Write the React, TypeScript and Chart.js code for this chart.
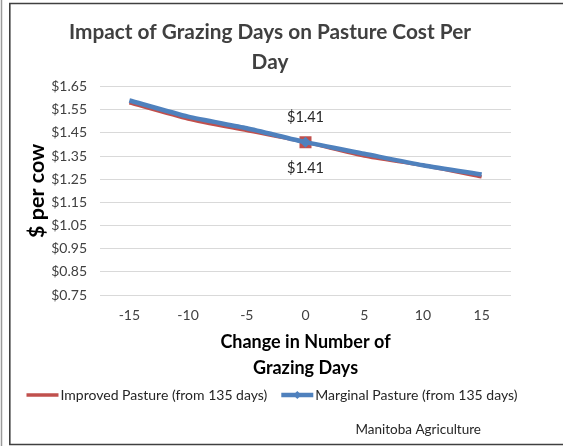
import React, { useEffect, useRef } from "react";
import { Chart, registerables } from "chart.js";

Chart.register(...registerables);

const categories = ["-15", "-10", "-5", "0", "5", "10", "15"];
const improvedValues = [1.58, 1.51, 1.46, 1.41, 1.35, 1.31, 1.26];
const marginalValues = [1.59, 1.52, 1.47, 1.41, 1.36, 1.31, 1.27];
const yTickValues = [0.75, 0.85, 0.95, 1.05, 1.15, 1.25, 1.35, 1.45, 1.55, 1.65];
const seriesLabels = ["Improved Pasture (from 135 days)", "Marginal Pasture (from 135 days)"];
const titleLines = ["Impact of Grazing Days on Pasture Cost Per", "Day"];
const xTitleLines = ["Change in Number of", "Grazing Days"];
const yTitle = "$ per cow";
const sourceText = "Manitoba Agriculture";
const labelIndex = 3;

const FONT = "Lato, 'Noto Sans', sans-serif";
const RED = "#C0504D";
const BLUE = "#4F81BD";

const money = (v: number) => "$" + Number(v).toFixed(2);

const framePlugin = {
  id: "frame",
  beforeDraw(chart: any) {
    const { ctx, width, height } = chart;
    ctx.save();
    ctx.fillStyle = "#ffffff";
    ctx.fillRect(0, 0, width, height);
    ctx.strokeStyle = "#9a9a9a";
    ctx.lineWidth = 1.5;
    ctx.beginPath();
    ctx.moveTo(1.5, 0);
    ctx.lineTo(1.5, height);
    ctx.stroke();
    ctx.strokeStyle = "#404040";
    ctx.lineWidth = 1.6;
    ctx.beginPath();
    ctx.moveTo(width + 5, 3.5);
    ctx.lineTo(9.8, 3.5);
    ctx.lineTo(9.8, 444.5);
    ctx.lineTo(width + 5, 444.5);
    ctx.stroke();
    ctx.restore();
  },
};

const labelPlugin = {
  id: "pointLabels",
  afterDatasetsDraw(chart: any) {
    const { ctx } = chart;
    ctx.save();
    ctx.font = `14.5px ${FONT}`;
    ctx.fillStyle = "#262626";
    ctx.textAlign = "center";
    ctx.textBaseline = "middle";
    chart.data.datasets.forEach((ds: any, i: number) => {
      const el = chart.getDatasetMeta(i).data[labelIndex];
      if (!el) return;
      const dy = i === 0 ? -25 : 26;
      ctx.fillText(money(ds.data[labelIndex]), el.x, el.y + dy);
    });
    ctx.restore();
  },
};

const legendPlugin = {
  id: "customLegend",
  afterDraw(chart: any) {
    const { ctx } = chart;
    ctx.save();
    ctx.font = `14px ${FONT}`;
    ctx.textBaseline = "middle";
    ctx.fillStyle = "#262626";
    const sample = 32;
    const gapText = 2;
    const gapItem = 14;
    const y = 395;
    const items = chart.data.datasets.map((ds: any) => ({
      ds,
      w: sample + gapText + ctx.measureText(ds.label).width,
    }));
    const total = items.reduce((a: number, it: any) => a + it.w, 0) + gapItem * (items.length - 1);
    let x = 272 - total / 2;
    items.forEach((it: any) => {
      const ds = it.ds;
      ctx.strokeStyle = ds.borderColor;
      ctx.lineWidth = ds.borderWidth;
      ctx.beginPath();
      ctx.moveTo(x, y);
      ctx.lineTo(x + sample, y);
      ctx.stroke();
      if (ds.legendMarker) {
        ctx.fillStyle = ds.borderColor;
        const cx = x + sample / 2;
        const r = 4;
        ctx.beginPath();
        ctx.moveTo(cx - r, y);
        ctx.lineTo(cx, y - r);
        ctx.lineTo(cx + r, y);
        ctx.lineTo(cx, y + r);
        ctx.closePath();
        ctx.fill();
      }
      ctx.fillStyle = "#262626";
      ctx.textAlign = "left";
      ctx.fillText(ds.label, x + sample + gapText, y);
      x += it.w + gapItem;
    });
    ctx.font = `13.5px ${FONT}`;
    ctx.textAlign = "right";
    ctx.fillText(sourceText, 481, 430);
    ctx.restore();
  },
};

export default function App() {
  const ref = useRef<HTMLCanvasElement | null>(null);
  useEffect(() => {
    document.body.style.margin = "0";
    const canvas = ref.current;
    if (!canvas) return;
    const pointRadii = categories.map((_, i) => (i === labelIndex ? 1 : 0));
    const chart = new Chart(canvas, {
      type: "line",
      data: {
        labels: categories,
        datasets: [
          {
            label: seriesLabels[0],
            data: improvedValues,
            borderColor: RED,
            backgroundColor: RED,
            borderWidth: 3.5,
            tension: 0.2,
            pointStyle: "rect",
            pointRadius: pointRadii.map((r) => r * 8.5),
            pointBorderWidth: 0,
            order: 2,
          } as any,
          {
            label: seriesLabels[1],
            data: marginalValues,
            borderColor: BLUE,
            backgroundColor: BLUE,
            borderWidth: 4.5,
            tension: 0.2,
            pointStyle: "rectRot",
            pointRadius: pointRadii.map((r) => r * 5.5),
            pointBorderWidth: 0,
            order: 1,
            legendMarker: true,
          } as any,
        ],
      },
      options: {
        responsive: false,
        animation: false,
        events: [],
        layout: { padding: { left: 29, right: 52, top: 10, bottom: 65 } },
        plugins: {
          legend: { display: false },
          tooltip: { enabled: false },
          title: {
            display: true,
            text: titleLines,
            color: "#404040",
            font: { family: FONT, size: 20.8, weight: "bold", lineHeight: 1.42 },
            padding: { top: 8, bottom: 9.5 },
          },
        },
        scales: {
          x: {
            type: "category",
            offset: true,
            grid: { display: false },
            border: { display: false },
            ticks: { color: "#404040", font: { family: FONT, size: 14 }, padding: 4 },
            title: {
              display: true,
              text: xTitleLines,
              color: "#000000",
              font: { family: FONT, size: 18, weight: "bold", lineHeight: 1.45 },
              padding: { top: 0, bottom: 0 },
            },
            afterFit: (s: any) => {
              s.height = 86;
            },
          },
          y: {
            min: 0.75,
            max: 1.65,
            afterBuildTicks: (s: any) => {
              s.ticks = yTickValues.map((v) => ({ value: v }));
            },
            grid: { color: "#D9D9D9", drawTicks: false, lineWidth: 1 },
            border: { display: false },
            ticks: {
              color: "#404040",
              font: { family: FONT, size: 14 },
              padding: 13,
              callback: (v: any) => money(v),
            },
            title: {
              display: true,
              text: yTitle,
              color: "#000000",
              font: { family: FONT, size: 21.5, weight: "bold", lineHeight: 1.2 },
              padding: { top: -5, bottom: 0 },
            },
            afterFit: (s: any) => {
              s.width = 71;
            },
          },
        },
      },
      plugins: [framePlugin, labelPlugin, legendPlugin],
    });
    return () => chart.destroy();
  }, []);
  return <canvas ref={ref} width={563} height={446} style={{ display: "block" }} />;
}
